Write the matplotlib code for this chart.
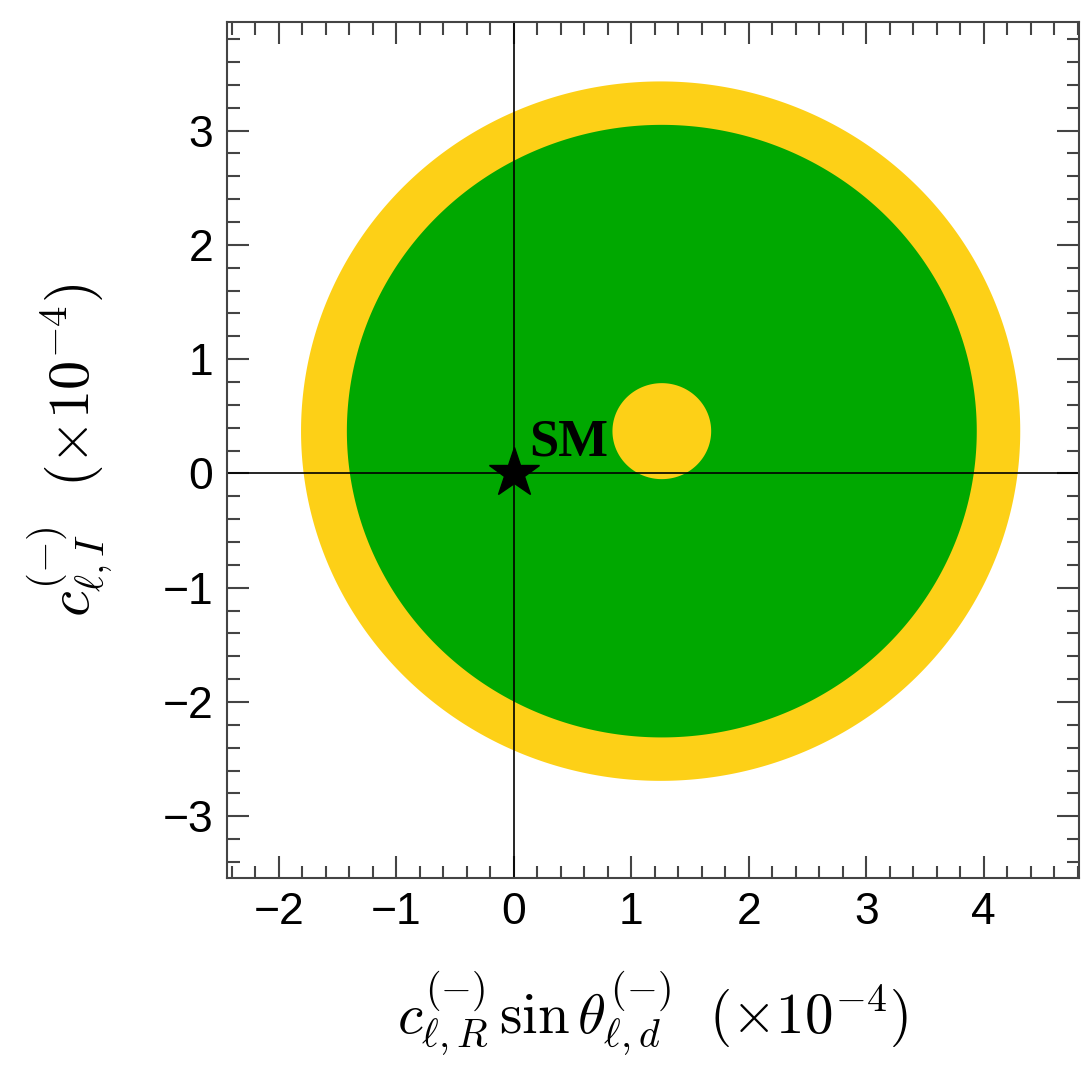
import numpy as np
import matplotlib
matplotlib.use("Agg")
import matplotlib.pyplot as plt
from matplotlib.ticker import MultipleLocator

# Allowed regions (units of 1e-4): disks
region_names = ["outer_yellow", "green", "inner_yellow"]
center_x = [1.25, 1.26, 1.26]
center_y = [0.37, 0.37, 0.37]
radius = [3.06, 2.68, 0.42]
colors = ["#FDD017", "#00A800", "#FDD017"]

sm_point_x = [0.0]
sm_point_y = [0.0]
sm_label = "SM"

x_ticks = [-2, -1, 0, 1, 2, 3, 4]
y_ticks = [-3, -2, -1, 0, 1, 2, 3]
x_limits = (-2.44, 4.81)
y_limits = (-3.54, 3.95)

plt.rcParams["mathtext.fontset"] = "cm"
plt.rcParams["font.family"] = ["Liberation Sans", "DejaVu Sans"]

fig = plt.figure(figsize=(10.81, 10.82), dpi=100)
ax = fig.add_axes([227 / 1081, 1 - 878 / 1082, (1079 - 227) / 1081, (878 - 22) / 1082])

theta = np.linspace(0, 2 * np.pi, 721)
for cx, cy, r, c in zip(center_x, center_y, radius, colors):
    ax.fill(cx + r * np.cos(theta), cy + r * np.sin(theta), color=c, lw=0, zorder=1)

ax.axhline(0, color="black", lw=1.2, zorder=2)
ax.axvline(0, color="black", lw=1.2, zorder=2)

ax.plot(sm_point_x, sm_point_y, marker="*", color="black", markersize=38, ls="none", zorder=3)
ax.text(sm_point_x[0] + 0.13, sm_point_y[0] + 0.06, sm_label, fontsize=38, fontweight="bold",
        family=["Liberation Serif", "DejaVu Serif"], ha="left", va="bottom", zorder=3)

ax.set_xlim(*x_limits)
ax.set_ylim(*y_limits)
ax.set_xticks(x_ticks)
ax.set_yticks(y_ticks)
ax.set_xticklabels([f"{t}".replace("-", "\u2212") for t in x_ticks])
ax.set_yticklabels([f"{t}".replace("-", "\u2212") for t in y_ticks])
ax.xaxis.set_minor_locator(MultipleLocator(0.2))
ax.yaxis.set_minor_locator(MultipleLocator(0.2))
ax.tick_params(which="both", direction="in", top=True, right=True, color="#444444", width=1.5)
ax.tick_params(which="major", length=16, labelsize=32, pad=10)
ax.tick_params(which="minor", length=9)
for s in ax.spines.values():
    s.set_linewidth(1.5)
    s.set_color("#444444")

ax.set_xlabel(r"$c^{(-)}_{\ell,R}\,\sin\theta^{(-)}_{\ell,d}\ \ (\times 10^{-4})$", fontsize=41, labelpad=26)
ax.set_ylabel(r"$c^{(-)}_{\ell,I}\ \ (\times 10^{-4})$", fontsize=42, labelpad=34)

fig.savefig("out.png", dpi=100)
